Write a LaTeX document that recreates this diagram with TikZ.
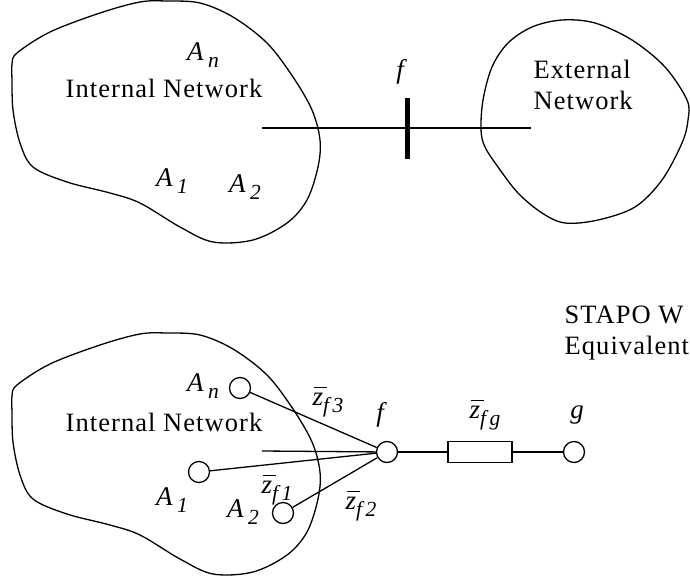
\documentclass[tikz,border=0pt]{standalone}
\usepackage{fontspec}
\setmainfont{Liberation Serif}
\newfontfamily\spacedfont{Liberation Serif}[LetterSpace=4]
\newcommand{\zbar}{\rlap{\hspace{0.06em}\raisebox{0.62em}{\rule{0.48em}{0.055em}}}z}
\newcommand{\mysb}[1]{\raisebox{-0.28em}{\fontsize{21.5}{23}\selectfont #1}}
\begin{document}
\begin{tikzpicture}[x=1pt,y=-1pt,line width=1.3pt,
  txt/.style={font=\fontsize{26.5}{31}\selectfont\spacedfont,align=left,inner sep=0pt},
  lab/.style={font=\fontsize{27}{31}\selectfont\itshape,inner sep=0pt},
  bus/.style={circle,draw,minimum size=21pt,inner sep=0pt},
  imp/.style={rectangle,draw,minimum width=64pt,minimum height=21pt,inner sep=0pt},
  blob/.style={line width=1.3pt}]
\useasboundingbox (0,0) rectangle (690,581);

% ---------- top: internal network blob
\draw[blob] plot[smooth cycle,tension=0.55] coordinates {
 (12,64) (17,53) (50,32) (100,13) (140,2) (167,1) (200,3) (233,17) (267,43)
 (293,77) (312,110) (320,140) (318,167) (307,200) (287,223) (253,240) (213,242)
 (180,227) (140,203) (110,193) (67,182) (33,167) (20,143) (13,110) (12,80)};
% external network blob
\draw[blob] plot[smooth cycle,tension=0.55] coordinates {
 (481,130) (483,100) (492,67) (508,43) (532,27) (562,20) (595,23) (632,40)
 (665,67) (687,100) (688,120) (682,143) (662,180) (635,207) (598,220) (565,223)
 (542,213) (518,193) (498,167) (485,147)};

\node[txt] (intT) at (164,88) {Internal Network};
\node[txt,anchor=west] (ext) at (533,85) {External\\Network};
\node[lab] (AnT) at (203,55) {A\,\mysb{n}};
\node[lab] (A1T) at (172,181) {A\,\mysb{1}};
\node[lab] (A2T) at (245,187) {A\,\mysb{2}};
\node[lab] (fT) at (400,72) {f};

\coordinate (t1) at (262,128);
\coordinate (t2) at (531,128);
\draw (t1) -- (t2);
\node[fill,minimum width=5pt,minimum height=61pt,inner sep=0pt] (bar) at (407,128) {};

% ---------- bottom
\begin{scope}[shift={(0,332)}]
\draw[blob] plot[smooth cycle,tension=0.55] coordinates {
 (12,64) (17,53) (50,32) (100,13) (140,2) (167,1) (200,3) (233,17) (267,43)
 (293,77) (312,110) (320,140) (318,167) (307,200) (287,223) (253,240) (213,242)
 (180,227) (140,203) (110,193) (67,182) (33,167) (20,143) (13,110) (12,80)};
\end{scope}

\node[txt] (intB) at (164,422) {Internal Network};
\node[txt,anchor=west] (stap) at (564,333) {STAPO W\\Equivalent};

\node[bus] (An) at (240,388) {};
\node[bus] (A1) at (199,472) {};
\node[bus] (A2) at (283,513) {};
\node[bus] (f) at (387,452) {};
\node[imp] (R) at (480,452) {};
\node[bus] (g) at (574,452) {};

\node[lab] (AnB) at (203,386) {A\,\mysb{n}};
\node[lab] (A1B) at (172,500) {A\,\mysb{1}};
\node[lab] (A2B) at (243,512) {A\,\mysb{2}};
\node[lab] (fB) at (380,415) {f};
\node[lab] (gB) at (577,415) {g};
\node[lab] (z3) at (328,402) {\zbar\mysb{f\,3}};
\node[lab] (z1) at (277,490) {\zbar\mysb{f\,1}};
\node[lab] (z2) at (361,506) {\zbar\mysb{f\,2}};
\node[lab] (zg) at (485,415) {\zbar\mysb{f\,g}};

\coordinate (b1) at (262,451);
\draw (b1) -- (f);
\draw (An) -- (f);
\draw (A1) -- (f);
\draw (A2) -- (f);
\draw (f) -- (R) -- (g);
\end{tikzpicture}
\end{document}
